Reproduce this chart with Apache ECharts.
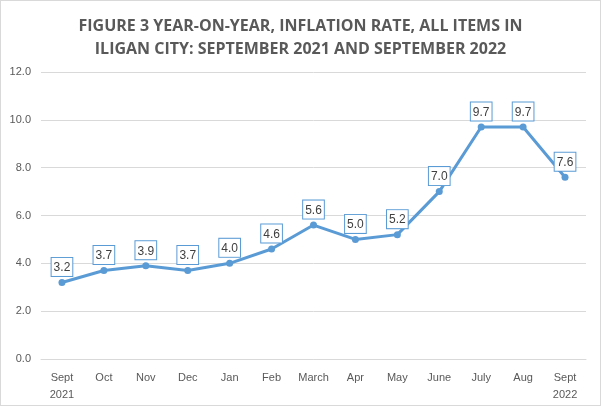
<!DOCTYPE html>
<html><head><meta charset="utf-8">
<script src="https://cdn.jsdelivr.net/npm/echarts@6/dist/echarts.min.js"></script>
<style>html,body{margin:0;padding:0;background:#fff}#c{width:599px;height:404px;border:1px solid #d9d9d9}</style>
</head><body><div id="c"></div>
<script>
var categories = ["Sept\n2021","Oct","Nov","Dec","Jan","Feb","March","Apr","May","June","July","Aug","Sept\n2022"];
var inflation = [3.2,3.7,3.9,3.7,4.0,4.6,5.6,5.0,5.2,7.0,9.7,9.7,7.6];
var titleText = "FIGURE 3 YEAR-ON-YEAR, INFLATION RATE, ALL ITEMS IN\nILIGAN CITY: SEPTEMBER 2021 AND SEPTEMBER 2022";
var chart = echarts.init(document.getElementById('c'));
chart.setOption({
  animation:false,
  title:{text:titleText,left:'center',top:9,textStyle:{fontFamily:'Open Sans',fontWeight:'bold',fontSize:16,color:'#595959',lineHeight:23}},
  grid:{left:40,right:14,top:71,bottom:46},
  xAxis:{type:'category',data:categories,boundaryGap:true,
    axisLine:{lineStyle:{color:'#d9d9d9'}},axisTick:{show:false},
    axisLabel:{color:'#595959',fontSize:11,fontFamily:'Liberation Sans',margin:10,lineHeight:17,interval:0}},
  yAxis:{type:'value',min:0,max:12,interval:2,
    axisLine:{show:false},axisTick:{show:false},
    splitLine:{lineStyle:{color:'#d9d9d9'}},
    axisLabel:{color:'#595959',fontSize:11,fontFamily:'Liberation Sans',margin:10,formatter:function(v){return v.toFixed(1);}}},
  series:[{type:'line',data:inflation,smooth:false,symbol:'circle',symbolSize:7,
    lineStyle:{color:'#5b9bd5',width:3},itemStyle:{color:'#5b9bd5'},
    label:{show:true,position:'top',distance:3,formatter:function(p){return p.value.toFixed(1);},
      color:'#404040',fontSize:12,fontFamily:'Liberation Sans',lineHeight:14,backgroundColor:'#fff',borderColor:'#5b9bd5',borderWidth:1,padding:[3,2,1,2]}}]
});
</script></body></html>
